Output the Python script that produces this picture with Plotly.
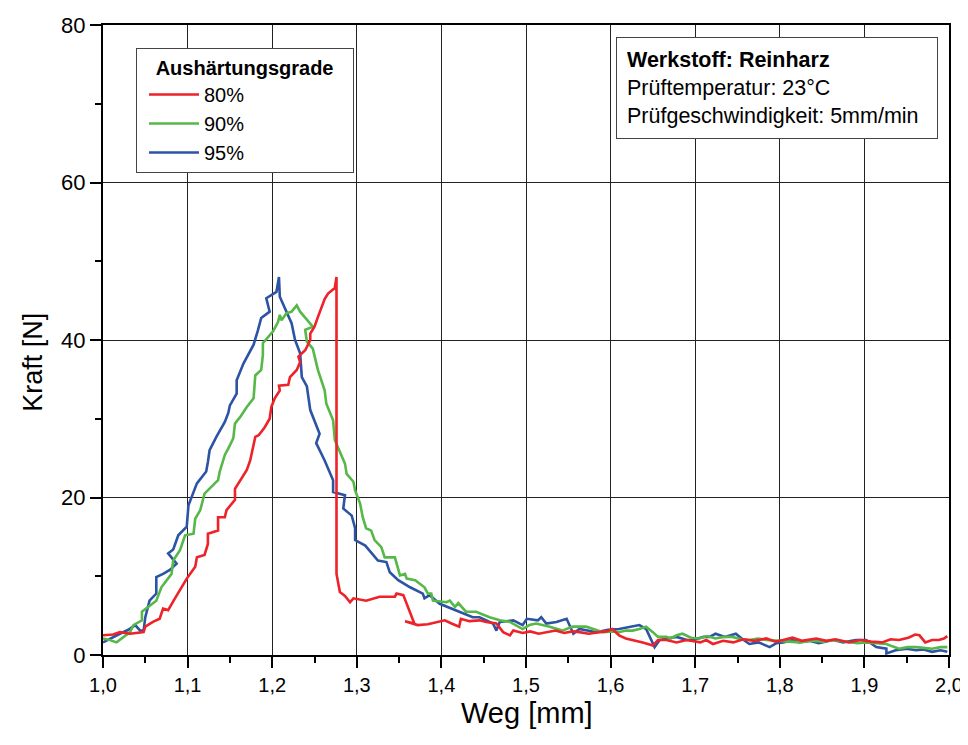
import plotly.graph_objects as go

# ---- data (Weg [mm], Kraft [N]) ----
series_names = ["80%", "90%", "95%"]

x_80 = [1.000, 1.012, 1.020, 1.032, 1.048, 1.050, 1.059, 1.067, 1.071, 1.077, 1.084, 1.091, 1.099, 1.109, 1.111,
        1.120, 1.124, 1.124, 1.136, 1.136, 1.144, 1.146, 1.156, 1.156, 1.163, 1.170, 1.174, 1.180, 1.184, 1.191,
        1.197, 1.199, 1.203, 1.205, 1.209, 1.208, 1.219, 1.221, 1.229, 1.233, 1.231, 1.239, 1.245, 1.245, 1.250,
        1.254, 1.258, 1.262, 1.266, 1.274, 1.276, 1.276, 1.280, 1.286, 1.292, 1.296, 1.311, 1.327, 1.345, 1.347,
        1.355, 1.368, 1.357, 1.372, 1.384, 1.398, 1.404, 1.412, 1.421, 1.423, 1.433, 1.445, 1.453, 1.465, 1.473,
        1.481, 1.485, 1.496, 1.505, 1.515, 1.524, 1.535, 1.545, 1.555, 1.563, 1.574, 1.587, 1.595, 1.602, 1.610,
        1.618, 1.626, 1.638, 1.650, 1.656, 1.666, 1.678, 1.690, 1.706, 1.713, 1.721, 1.733, 1.745, 1.757, 1.770,
        1.784, 1.795, 1.804, 1.815, 1.826, 1.843, 1.855, 1.866, 1.882, 1.895, 1.908, 1.921, 1.931, 1.941, 1.952,
        1.960, 1.965, 1.972, 1.980, 1.988, 1.994, 1.998]
y_80 = [2.5, 2.6, 2.9, 2.7, 2.9, 3.6, 4.2, 4.6, 5.9, 5.7, 7.0, 8.2, 9.7, 11.2, 12.4,
        12.7, 14.1, 15.4, 15.8, 17.5, 17.5, 18.4, 19.7, 21.1, 22.3, 23.5, 24.7, 27.7, 27.9, 28.9,
        30.0, 31.5, 32.6, 33.0, 33.6, 34.2, 34.3, 35.3, 36.2, 37.2, 37.9, 38.7, 40.0, 40.8, 41.7,
        42.9, 44.2, 45.2, 45.9, 46.6, 48.0, 10.3, 8.0, 7.5, 6.7, 7.2, 6.9, 7.4, 7.4, 7.8,
        7.6, 4.0, 4.3, 3.8, 3.9, 4.2, 4.4, 4.0, 3.6, 4.6, 4.3, 4.4, 4.2, 4.0, 2.9,
        2.5, 3.1, 2.8, 3.0, 2.7, 2.9, 3.1, 2.8, 3.0, 2.9, 2.7, 2.9, 3.0, 3.3, 2.5,
        2.1, 1.9, 1.6, 1.2, 1.9, 1.9, 1.6, 1.9, 1.6, 1.9, 1.4, 1.8, 1.6, 2.0, 1.8,
        2.1, 1.7, 1.9, 2.2, 1.8, 2.1, 1.8, 2.0, 1.6, 1.9, 1.7, 1.6, 2.0, 1.9, 2.2,
        2.6, 2.5, 1.6, 1.9, 1.9, 2.1, 2.4]

x_90 = [1.000, 1.008, 1.016, 1.024, 1.032, 1.036, 1.046, 1.046, 1.055, 1.063, 1.069, 1.081, 1.083, 1.091, 1.097,
        1.107, 1.109, 1.115, 1.120, 1.136, 1.138, 1.144, 1.148, 1.154, 1.156, 1.162, 1.170, 1.178, 1.180, 1.187,
        1.189, 1.189, 1.201, 1.207, 1.209, 1.211, 1.217, 1.223, 1.229, 1.233, 1.248, 1.239, 1.241, 1.248, 1.254,
        1.262, 1.264, 1.272, 1.274, 1.286, 1.288, 1.296, 1.298, 1.304, 1.307, 1.311, 1.317, 1.321, 1.329, 1.333,
        1.345, 1.349, 1.351, 1.357, 1.359, 1.369, 1.380, 1.384, 1.388, 1.390, 1.406, 1.410, 1.416, 1.420, 1.429,
        1.441, 1.457, 1.469, 1.481, 1.496, 1.504, 1.512, 1.528, 1.543, 1.555, 1.571, 1.581, 1.591, 1.602, 1.610,
        1.618, 1.626, 1.634, 1.642, 1.650, 1.656, 1.666, 1.671, 1.678, 1.685, 1.695, 1.705, 1.714, 1.724, 1.734,
        1.744, 1.754, 1.764, 1.774, 1.784, 1.800, 1.812, 1.823, 1.840, 1.852, 1.863, 1.880, 1.892, 1.902, 1.915,
        1.926, 1.933, 1.941, 1.951, 1.961, 1.970, 1.980, 1.990, 1.998]
y_90 = [2.1, 1.9, 1.6, 2.3, 2.9, 3.8, 4.4, 5.5, 6.3, 6.9, 8.6, 10.3, 12.0, 13.3, 15.2,
        15.4, 17.3, 18.4, 20.5, 22.2, 23.3, 25.4, 26.2, 27.5, 29.4, 30.2, 31.5, 32.6, 35.5, 36.2,
        38.1, 39.6, 41.1, 42.3, 43.2, 42.5, 43.4, 43.6, 44.4, 43.6, 41.7, 41.3, 39.8, 38.9, 36.2,
        33.6, 31.9, 29.8, 27.3, 24.3, 23.0, 22.0, 20.9, 19.2, 17.5, 16.1, 15.8, 14.6, 13.7, 12.4,
        12.4, 11.0, 10.1, 10.3, 9.7, 9.5, 8.6, 7.8, 7.8, 6.9, 6.7, 6.9, 6.1, 6.6, 5.5,
        5.5, 4.8, 4.4, 4.2, 3.3, 3.8, 4.0, 3.6, 3.1, 3.6, 3.6, 3.2, 2.9, 3.0, 2.9,
        3.1, 3.1, 3.3, 3.6, 2.9, 2.3, 2.3, 2.1, 2.5, 2.7, 2.2, 2.1, 2.4, 2.1, 2.3,
        2.3, 2.0, 1.9, 2.1, 1.9, 1.8, 1.7, 1.6, 1.8, 1.7, 1.9, 1.7, 1.5, 1.6, 1.5,
        1.4, 1.1, 0.8, 1.0, 1.0, 0.9, 0.8, 1.0, 1.0]

x_95 = [1.000, 1.010, 1.020, 1.030, 1.038, 1.044, 1.048, 1.050, 1.055, 1.063, 1.063, 1.071, 1.079, 1.087, 1.077,
        1.083, 1.089, 1.099, 1.101, 1.111, 1.122, 1.124, 1.126, 1.134, 1.144, 1.148, 1.150, 1.158, 1.158, 1.166,
        1.172, 1.178, 1.183, 1.187, 1.197, 1.193, 1.205, 1.208, 1.209, 1.217, 1.223, 1.227, 1.233, 1.235, 1.241,
        1.245, 1.250, 1.256, 1.252, 1.262, 1.272, 1.272, 1.286, 1.284, 1.294, 1.298, 1.298, 1.310, 1.325, 1.335,
        1.339, 1.349, 1.363, 1.378, 1.380, 1.386, 1.398, 1.417, 1.437, 1.445, 1.461, 1.465, 1.469, 1.485, 1.496,
        1.501, 1.514, 1.518, 1.524, 1.536, 1.548, 1.556, 1.563, 1.583, 1.597, 1.610, 1.626, 1.634, 1.642, 1.648,
        1.652, 1.658, 1.666, 1.678, 1.690, 1.697, 1.710, 1.717, 1.724, 1.735, 1.748, 1.756, 1.764, 1.775, 1.788,
        1.796, 1.804, 1.815, 1.823, 1.835, 1.846, 1.863, 1.875, 1.890, 1.902, 1.914, 1.926, 1.926, 1.937, 1.950,
        1.961, 1.970, 1.980, 1.990, 1.998]
y_95 = [1.6, 2.2, 2.7, 3.2, 3.8, 3.1, 3.1, 4.8, 6.9, 7.8, 9.9, 10.3, 10.8, 11.6, 12.9,
        13.4, 15.2, 16.3, 19.0, 21.8, 23.3, 24.5, 26.0, 27.7, 29.6, 30.7, 31.7, 33.2, 34.9, 37.0,
        38.2, 39.4, 41.2, 42.8, 43.6, 45.3, 46.1, 48.0, 45.5, 43.6, 42.1, 40.0, 38.3, 35.3, 34.1,
        31.1, 29.8, 28.1, 26.9, 24.7, 22.2, 20.7, 20.3, 18.6, 17.7, 16.1, 14.6, 13.9, 12.0, 11.8,
        10.5, 9.5, 8.6, 7.8, 7.2, 7.6, 6.5, 5.7, 4.8, 4.8, 4.0, 3.1, 4.2, 4.4, 3.8,
        4.6, 4.4, 4.8, 4.0, 4.2, 4.6, 2.7, 3.3, 2.9, 3.2, 3.3, 3.6, 3.8, 3.3, 1.9,
        1.0, 1.9, 2.1, 2.3, 1.9, 1.9, 2.3, 2.3, 2.7, 2.3, 2.7, 2.0, 1.4, 1.6, 1.0,
        1.5, 1.6, 1.9, 1.6, 1.8, 1.5, 1.9, 1.6, 1.9, 1.9, 1.0, 0.8, 0.2, 0.6, 0.8,
        0.6, 0.7, 0.4, 0.6, 0.4]

x_tick_vals = [1.0, 1.1, 1.2, 1.3, 1.4, 1.5, 1.6, 1.7, 1.8, 1.9, 2.0]
y_tick_vals = [0, 20, 40, 60, 80]
x_title = "Weg [mm]"
y_title = "Kraft [N]"

colors = {"80%": "#ee2229", "90%": "#56b848", "95%": "#2c53a4"}
FONT = "Liberation Sans, Arial, Helvetica, sans-serif"
NB = "\u00a0"

fig = go.Figure()
# draw order: blue, green, red (red on top)
for name, xs, ys, rank in [("95%", x_95, y_95, 3), ("90%", x_90, y_90, 2), ("80%", x_80, y_80, 1)]:
    fig.add_trace(go.Scatter(x=xs, y=ys, mode="lines", name=name, legendrank=rank,
                             line=dict(color=colors[name], width=2.6)))

axis_common = dict(
    showline=True, linecolor="black", linewidth=2, mirror=True,
    showgrid=True, gridcolor="#222222", gridwidth=1, zeroline=False,
    ticks="outside", ticklen=11, tickwidth=2, tickcolor="black",
    automargin=False,
)

# page body has an 8px margin, so the figure is 8px smaller and margins shifted
fig.update_layout(
    width=960, height=737,
    margin=dict(l=95, r=19, t=17, b=90, autoexpand=False),
    paper_bgcolor="white", plot_bgcolor="white",
    separators=",.",
    font=dict(family=FONT, color="black"),
    xaxis=dict(range=[1.0, 2.0], tickvals=x_tick_vals, tickformat=".1f",
               tickfont=dict(family=FONT, size=20, color="black"),
               minor=dict(dtick=0.05, tick0=1.0, ticks="outside", ticklen=6, tickwidth=1.5,
                          tickcolor="black", showgrid=False),
               **axis_common),
    yaxis=dict(range=[0, 80], tickvals=y_tick_vals,
               tickfont=dict(family=FONT, size=22, color="black"),
               minor=dict(dtick=10, tick0=0, ticks="outside", ticklen=6, tickwidth=1.5,
                          tickcolor="black", showgrid=False),
               **axis_common),
    showlegend=True,
    legend=dict(
        x=0.039, y=0.9635, xanchor="left", yanchor="top",
        bgcolor="white", bordercolor="#444444", borderwidth=1,
        title=dict(text=NB * 3 + "<b>Aushärtungsgrade</b>" + NB * 3, side="top",
                   font=dict(family=FONT, size=20, color="black")),
        font=dict(family=FONT, size=20, color="black"),
        traceorder="normal", itemwidth=50, tracegroupgap=0, indentation=7,
    ),
)

# axis titles (placed as in the reference)
fig.add_annotation(xref="paper", yref="paper", x=0.501, y=-0.092, xanchor="center", yanchor="middle",
                   showarrow=False, text=x_title, font=dict(family=FONT, size=29, color="black"))
fig.add_annotation(xref="paper", yref="paper", x=-0.083, y=0.465, xanchor="center", yanchor="middle",
                   showarrow=False, text=y_title, textangle=-90, font=dict(family=FONT, size=27, color="black"))

fig.add_annotation(
    xref="paper", yref="paper", x=0.606, y=0.981, xanchor="left", yanchor="top",
    showarrow=False, align="left", width=300, height=80,
    text="<b>Werkstoff: Reinharz</b><br>Prüftemperatur: 23°C<br>Prüfgeschwindigkeit: 5mm/min",
    font=dict(family=FONT, size=21.5, color="black"),
    bgcolor="white", bordercolor="#444444", borderwidth=1, borderpad=10,
)

fig.write_html("out.html")
